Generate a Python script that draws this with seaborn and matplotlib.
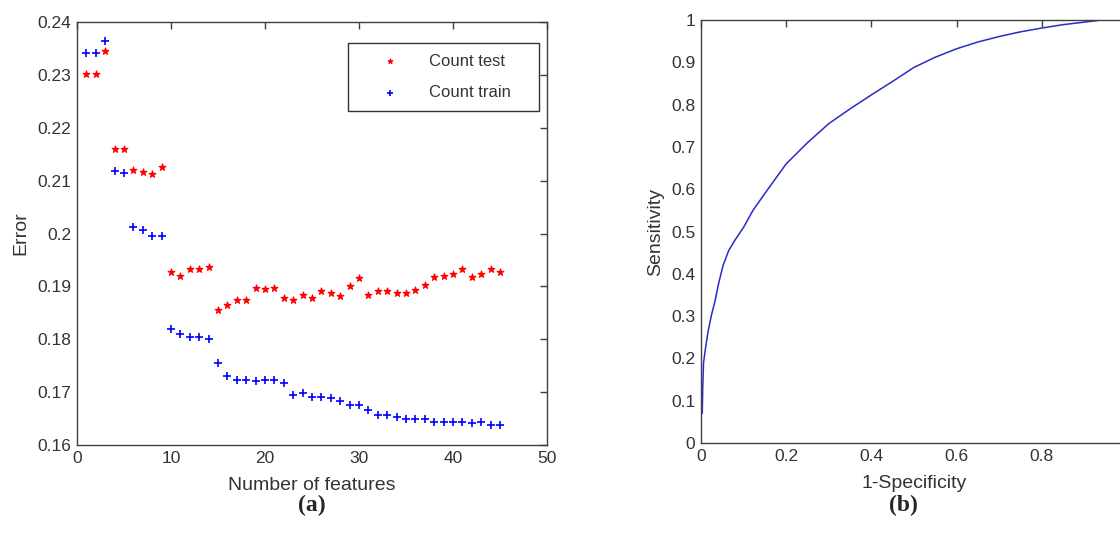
import numpy as np
import pandas as pd
import matplotlib
matplotlib.use('Agg')
import matplotlib.pyplot as plt
import seaborn as sns

# --- データ ---
N_FEATURES = list(range(1, 46))
COUNT_TEST = [0.2301, 0.2301, 0.2345, 0.2160, 0.2160, 0.2121, 0.2117, 0.2112, 0.2126,
              0.1927, 0.1920, 0.1932, 0.1932, 0.1937, 0.1856, 0.1865, 0.1875, 0.1875,
              0.1897, 0.1895, 0.1897, 0.1878, 0.1875, 0.1883, 0.1878, 0.1891, 0.1888,
              0.1882, 0.1900, 0.1915, 0.1884, 0.1891, 0.1891, 0.1888, 0.1888, 0.1893,
              0.1902, 0.1918, 0.1920, 0.1924, 0.1932, 0.1918, 0.1923, 0.1932, 0.1927]
COUNT_TRAIN = [0.2342, 0.2342, 0.2365, 0.2119, 0.2115, 0.2013, 0.2006, 0.1996, 0.1996,
               0.1819, 0.1809, 0.1804, 0.1804, 0.1800, 0.1755, 0.1731, 0.1722, 0.1722,
               0.1721, 0.1722, 0.1722, 0.1717, 0.1695, 0.1698, 0.1690, 0.1690, 0.1689,
               0.1684, 0.1676, 0.1676, 0.1666, 0.1656, 0.1656, 0.1653, 0.1650, 0.1650,
               0.1649, 0.1643, 0.1643, 0.1643, 0.1643, 0.1641, 0.1643, 0.1638, 0.1638]

ROC_FPR = [0.003, 0.004, 0.006, 0.010, 0.016, 0.024, 0.033, 0.042, 0.052, 0.065, 0.080,
           0.100, 0.122, 0.150, 0.175, 0.200, 0.250, 0.300, 0.350, 0.400, 0.450, 0.500,
           0.550, 0.600, 0.650, 0.700, 0.750, 0.800, 0.850, 0.900, 0.940, 1.000]
ROC_TPR = [0.070, 0.130, 0.190, 0.220, 0.260, 0.300, 0.336, 0.380, 0.420, 0.455, 0.480,
           0.510, 0.550, 0.590, 0.625, 0.660, 0.710, 0.755, 0.790, 0.823, 0.855, 0.888,
           0.912, 0.932, 0.948, 0.961, 0.972, 0.981, 0.989, 0.995, 1.000, 1.000]

sns.set_style('white')
plt.rcParams['font.family'] = ['Liberation Sans', 'DejaVu Sans']

TICK_COLOR = '#404040'
LABEL_SIZE = 14
TICK_SIZE = 12.5

fig = plt.figure(figsize=(11.2, 5.4), dpi=100)
ax1 = fig.add_axes([77 / 1120, 1 - 445 / 540, 470 / 1120, 423 / 540])
ax2 = fig.add_axes([701 / 1120, 1 - 443 / 540, 426 / 1120, 423 / 540])


def matlab_axes(ax):
    for sp in ax.spines.values():
        sp.set_color(TICK_COLOR)
        sp.set_linewidth(1.0)
    ax.tick_params(direction='in', top=True, right=True, length=5, width=1,
                   color=TICK_COLOR, labelcolor='#333333', labelsize=TICK_SIZE, pad=4)


# (a) 特徴数と誤差
df = pd.DataFrame({'n': N_FEATURES, 'test': COUNT_TEST, 'train': COUNT_TRAIN})
sns.scatterplot(data=df, x='n', y='test', ax=ax1, marker='*', color='red', s=26,
                edgecolor='red', linewidth=0.8, label='Count test')
sns.scatterplot(data=df, x='n', y='train', ax=ax1, marker='+', color='blue', s=36,
                linewidth=1.2, label='Count train')
ax1.set_xlim(0, 50)
ax1.set_ylim(0.16, 0.24)
ax1.set_xticks([0, 10, 20, 30, 40, 50])
ax1.set_yticks([0.16, 0.17, 0.18, 0.19, 0.2, 0.21, 0.22, 0.23, 0.24])
ax1.set_yticklabels(['0.16', '0.17', '0.18', '0.19', '0.2', '0.21', '0.22', '0.23', '0.24'])
ax1.set_xlabel('Number of features', fontsize=LABEL_SIZE, color='#333333', labelpad=8)
ax1.set_ylabel('Error', fontsize=LABEL_SIZE, color='#333333', labelpad=6)
matlab_axes(ax1)
# MATLAB風の凡例: 枠は横に広く、文字は左寄せ
leg = ax1.legend(loc='upper left', bbox_to_anchor=(0.5766, 0.5, 0.4064, 0.4504),
                 mode='expand', borderaxespad=0, fancybox=False, edgecolor='#333333',
                 framealpha=1, fontsize=12, handlelength=3.7, handletextpad=0.5,
                 borderpad=0.65, labelspacing=1.0, markerscale=0.7)
leg.get_frame().set_linewidth(1.0)
for t in leg.get_texts():
    t.set_color('#333333')

# (b) ROC曲線
roc = pd.DataFrame({'fpr': ROC_FPR, 'tpr': ROC_TPR})
sns.lineplot(data=roc, x='fpr', y='tpr', ax=ax2, color='#2a2ac8', linewidth=1.1,
             sort=False, estimator=None)
ax2.set_xlim(0, 1)
ax2.set_ylim(0, 1)
ax2.set_xticks([0, 0.2, 0.4, 0.6, 0.8, 1.0])
# 右端の "1" は図の外に切れて見えない
ax2.set_xticklabels(['0', '0.2', '0.4', '0.6', '0.8', ''])
ax2.set_yticks(np.arange(0, 1.01, 0.1))
ax2.set_yticklabels(['0', '0.1', '0.2', '0.3', '0.4', '0.5', '0.6', '0.7', '0.8', '0.9', '1'])
ax2.set_xlabel('1-Specificity', fontsize=LABEL_SIZE, color='#333333', labelpad=8)
ax2.set_ylabel('Sensitivity', fontsize=LABEL_SIZE, color='#333333', labelpad=5)
matlab_axes(ax2)

# サブ図ラベル
fig.text(312 / 1120, 1 - 505 / 540, '(a)', ha='center', va='center', fontsize=17,
         fontweight='bold', family=['Liberation Serif', 'DejaVu Serif'])
fig.text(903 / 1120, 1 - 505 / 540, '(b)', ha='center', va='center', fontsize=17,
         fontweight='bold', family=['Liberation Serif', 'DejaVu Serif'])

fig.savefig('out.png', dpi=100)
